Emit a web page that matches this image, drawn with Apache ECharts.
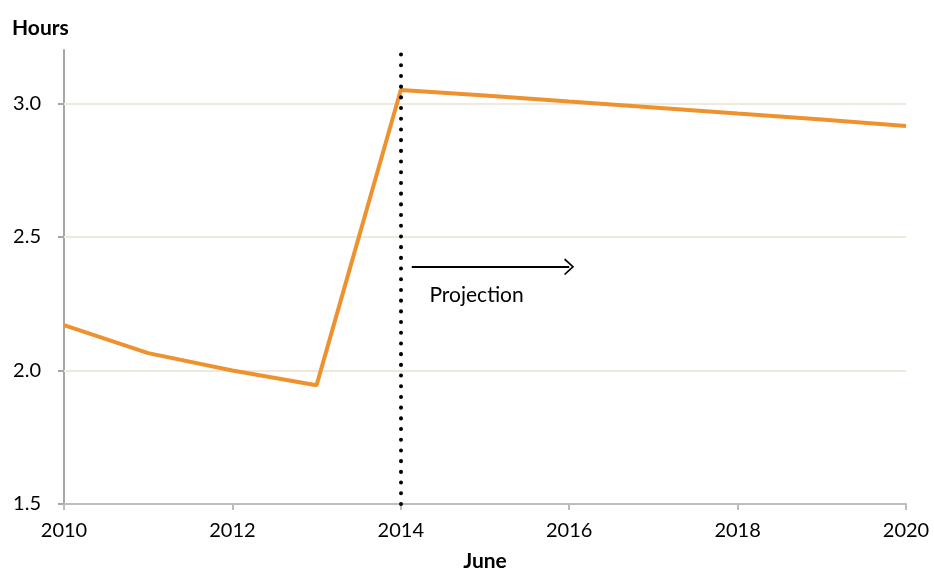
<!DOCTYPE html>
<html>
<head>
<meta charset="utf-8">
<script src="https://cdn.jsdelivr.net/npm/echarts@6/dist/echarts.min.js"></script>
<style>
  html, body { margin: 0; padding: 0; background: #fff; }
  #main { width: 934px; height: 570px; }
</style>
</head>
<body>
<div id="main"></div>
<script>
// chart data
const years = [2010, 2011, 2012, 2013, 2014, 2015, 2016, 2017, 2018, 2019, 2020];
const hours = [2.17, 2.065, 2.0, 1.945, 3.05, 3.03, 3.007, 2.985, 2.962, 2.94, 2.915];
const yTicks = [1.5, 2.0, 2.5, 3.0];
const gridValues = [2.0, 2.5, 3.0];
const projectionYear = 2014;
const arrowFrom = [2014.13, 2.388];
const arrowTo = [2016.0, 2.388];
const projectionLabelAt = [2014.9, 2.281];

const FONT = 'Lato, "Open Sans", sans-serif';

let myChart = echarts.init(document.getElementById('main'));

let option = {
  backgroundColor: '#fff',
  animation: false,
  title: {
    text: 'Hours',
    left: 7,
    top: 13,
    textStyle: { fontFamily: FONT, fontWeight: 'bold', fontSize: 21, color: '#000' }
  },
  grid: { left: 64, right: 28, top: 50, bottom: 66, outerBoundsMode: 'none', containLabel: false },
  xAxis: {
    type: 'value',
    min: 2010,
    max: 2020,
    interval: 2,
    name: 'June',
    nameLocation: 'middle',
    nameGap: 47,
    nameTextStyle: { fontFamily: FONT, fontWeight: 'bold', fontSize: 21, color: '#000' },
    axisLine: { lineStyle: { color: '#bdbdbd', width: 2 } },
    axisTick: { show: true, length: 6, lineStyle: { color: '#bdbdbd', width: 2 } },
    axisLabel: {
      margin: 17,
      fontFamily: FONT, fontSize: 20, color: '#000',
      formatter: v => String(v)
    },
    splitLine: { show: false }
  },
  yAxis: {
    type: 'value',
    min: 1.5,
    max: 3.2,
    interval: 0.5,
    axisLine: { show: true, lineStyle: { color: '#a6a6a6', width: 2 } },
    axisTick: { show: true, length: 6, customValues: yTicks, lineStyle: { color: '#a6a6a6', width: 2 } },
    axisLabel: {
      margin: 23,
      customValues: yTicks,
      fontFamily: FONT, fontSize: 20, color: '#000',
      formatter: v => v.toFixed(1)
    },
    splitLine: { show: false }
  },
  series: [
    {
      name: 'Hours',
      type: 'line',
      data: years.map((y, i) => [y, hours[i]]),
      symbol: 'none',
      z: 3,
      lineStyle: { color: '#ee9230', width: 4 },
      markLine: {
        silent: true,
        symbol: 'none',
        z: 1,
        label: { show: false },
        lineStyle: { color: '#ede9dc', width: 2, type: 'solid' },
        data: gridValues.map(v => ({ yAxis: v }))
      }
    },
    {
      name: 'projection',
      type: 'line',
      data: [],
      z: 5,
      markLine: {
        silent: true,
        symbol: 'none',
        label: { show: false },
        data: [
          {
            xAxis: projectionYear,
            lineStyle: { color: '#000', width: 4, type: [0.1, 10.6], cap: 'round' }
          },
          [
            { coord: arrowFrom, symbol: 'none' },
            {
              coord: arrowTo,
              symbol: 'path://M0,10 L5,0 L10,10 L9,10.8 L5,2.6 L1,10.8 Z',
              symbolSize: [17, 10],
              lineStyle: { color: '#000', width: 2, type: 'solid' }
            }
          ]
        ],
        lineStyle: { color: '#000', width: 2, type: 'solid' }
      },
      markPoint: {
        silent: true,
        symbol: 'circle',
        symbolSize: 0,
        label: {
          show: true,
          position: 'inside',
          formatter: 'Projection',
          fontFamily: FONT, fontSize: 21, color: '#000'
        },
        data: [{ coord: projectionLabelAt }]
      }
    }
  ]
};

myChart.setOption(option);
</script>
</body>
</html>
